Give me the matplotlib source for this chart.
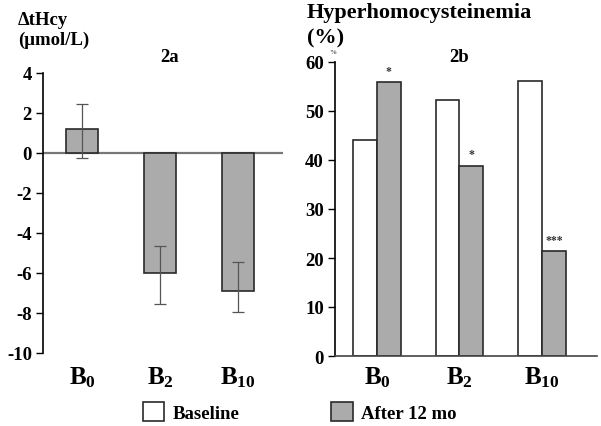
import matplotlib
matplotlib.use("Agg")
import matplotlib.pyplot as plt
import numpy as np

plt.rcParams['font.family'] = ['Liberation Serif', 'DejaVu Serif']
plt.rcParams['font.weight'] = 'bold'
plt.rcParams['mathtext.fontset'] = 'custom'
plt.rcParams['mathtext.rm'] = 'Liberation Serif:bold'
plt.rcParams['mathtext.bf'] = 'Liberation Serif:bold'
plt.rcParams['mathtext.it'] = 'Liberation Serif:bold'

# ---- data ----
categories = [r'$\mathbf{B}_{\mathbf{0}}$',
              r'$\mathbf{B}_{\mathbf{2}}$',
              r'$\mathbf{B}_{\mathbf{10}}$']
delta_hcy = [1.2, -6.0, -6.9]
delta_err_low = [1.45, 1.55, 1.05]
delta_err_high = [1.25, 1.35, 1.45]
baseline_pct = [44.1, 52.2, 56.1]
after_pct = [55.9, 38.8, 21.4]
significance = ['*', '*', '***']
left_yticks = [-10, -8, -6, -4, -2, 0, 2, 4]
right_yticks = [0, 10, 20, 30, 40, 50, 60]

GRAY = '#ababab'
EDGE = '#2a2a2a'

fig = plt.figure(figsize=(6.01, 4.27), dpi=100)

# ---- panel 2a ----
ax1 = fig.add_axes([43/601, 1-354/427, 240/601, 280/427])
x1 = np.arange(len(categories))
ax1.bar(x1, delta_hcy, width=0.4, color=GRAY, edgecolor=EDGE, linewidth=1.2, zorder=2)
ax1.errorbar(x1, delta_hcy, yerr=[delta_err_low, delta_err_high], fmt='none',
             ecolor='#555555', elinewidth=0.9, capsize=4, capthick=0.9, zorder=3)
ax1.axhline(0, color='#777777', lw=1.6, zorder=1)
ax1.set_xlim(-0.5, 2.577)
ax1.set_ylim(-10, 4)
ax1.set_yticks(left_yticks)
ax1.set_yticklabels([str(v) for v in left_yticks], fontsize=13.5, fontweight='bold')
ax1.set_xticks(x1)
ax1.set_xticklabels(categories, fontsize=18)
ax1.tick_params(axis='x', length=0, pad=8)
ax1.tick_params(axis='y', direction='out', length=5, width=1.0, pad=3)
for s in ['top', 'right', 'bottom']:
    ax1.spines[s].set_visible(False)
ax1.spines['left'].set_linewidth(1.2)

# ---- panel 2b ----
ax2 = fig.add_axes([335/601, 1-357/427, 262/601, 294/427])
x2 = np.arange(len(categories))
w = 0.29
b1 = ax2.bar(x2 - w/2, baseline_pct, width=w, color='white', edgecolor=EDGE, linewidth=1.2,
             label='Baseline', zorder=2)
b2 = ax2.bar(x2 + w/2, after_pct, width=w, color=GRAY, edgecolor=EDGE, linewidth=1.2,
             label='After 12 mo', zorder=2)
for xi, v, s in zip(x2 + w/2, after_pct, significance):
    ax2.annotate(s, (xi, v), xytext=(0, 4), textcoords='offset points',
                 ha='center', va='bottom', fontsize=8.5, fontweight='bold', color='#333333')
ax2.set_xlim(-0.509, 2.667)
ax2.set_ylim(0, 60)
ax2.set_yticks(right_yticks)
ax2.set_yticklabels([str(v) for v in right_yticks], fontsize=13.5, fontweight='bold')
ax2.set_xticks(x2)
ax2.set_xticklabels(categories, fontsize=18)
ax2.tick_params(axis='x', length=0, pad=6)
ax2.tick_params(axis='y', direction='out', length=5, width=1.0, pad=3)
for s in ['top', 'right']:
    ax2.spines[s].set_visible(False)
ax2.spines['left'].set_linewidth(1.2)
ax2.spines['bottom'].set_linewidth(1.2)
ax2.spines['bottom'].set_color('#444444')

# ---- titles ----
fig.text(18/601, 1-12/427, 'ΔtHcy', fontsize=13.5, fontweight='bold', va='top', ha='left')
fig.text(18/601, 1-32/427, '(μmol/L)', fontsize=13.5, fontweight='bold', va='top', ha='left')
fig.text(170/601, 1-49/427, '2a', fontsize=13.5, fontweight='bold', va='top', ha='center')
fig.text(307/601, 1-3/427, 'Hyperhomocysteinemia', fontsize=16, fontweight='bold', va='top', ha='left')
fig.text(307/601, 1-28/427, '(%)', fontsize=16, fontweight='bold', va='top', ha='left')
fig.text(459/601, 1-49/427, '2b', fontsize=13.5, fontweight='bold', va='top', ha='center')
fig.text(333/601, 1-50/427, '%', fontsize=5, color='#555555', va='top', ha='center')

# ---- legend ----
fig.legend(handles=[b1, b2], loc='center left', bbox_to_anchor=(137/601, 1-413/427),
           ncol=2, frameon=False, handlelength=1.15, handleheight=1.15,
           handletextpad=0.45, columnspacing=4.9, borderaxespad=0, borderpad=0.3,
           prop={'weight': 'bold', 'size': 13.5})

fig.savefig('out.png', dpi=100)
